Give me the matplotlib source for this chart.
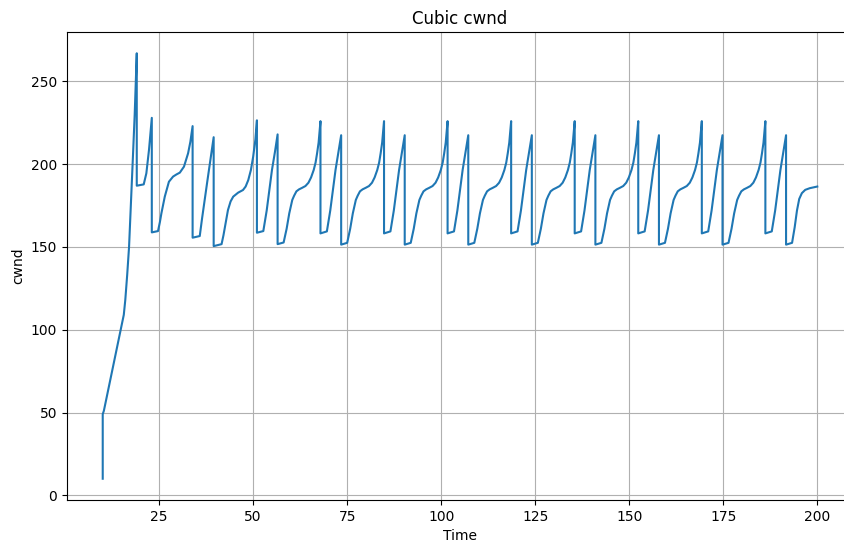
import matplotlib
matplotlib.use('Agg')
import matplotlib.pyplot as plt

# slow start + first loss events
t_start = [10.0, 10.0, 10.3, 15.6, 16.0, 16.5, 17.0, 17.5, 18.0, 18.5, 19.05, 19.05,
           20.9, 21.6, 22.3, 23.05, 23.05, 24.7, 25.2, 25.6, 26.5, 27.6, 28.7, 29.6,
           30.5, 31.6, 32.7, 33.3, 33.9, 33.9, 35.8, 36.4, 37.1, 37.8, 38.5, 39.5,
           39.5, 41.6, 42.1, 42.5, 43.3, 44.0, 44.7, 46.0, 47.3, 48.0, 48.7, 49.4,
           50.0, 50.6]
cwnd_start = [10, 49, 51, 109, 118, 133, 150, 176, 203, 230, 267, 187,
              187.8, 194.5, 208.6, 228, 158.8, 159.6, 165, 170.3, 180.4, 189.4, 192.5, 193.8,
              194.9, 198.5, 206.6, 213.5, 223, 155.6, 156.6, 167, 178.4, 189.5, 200.5, 216.3,
              150.5, 151.7, 157, 162.2, 172.3, 177.5, 180.4, 182.8, 184.4, 186.5, 190.4, 196.5,
              204.5, 215]

# steady state, one list per loss cycle
t_c1 = [51.0, 51.0, 52.7, 53.6, 54.3, 55.0, 55.8, 56.5, 56.5, 58.1, 58.9, 59.6, 60.0,
        60.4, 60.9, 61.5, 62.2, 63.0, 63.9, 64.7, 65.4, 66.1, 66.6, 67.0, 67.4]
t_c2 = [67.9, 67.9, 69.6, 70.5, 71.2, 71.9, 72.7, 73.4, 73.4, 75.0, 75.8, 76.5, 76.9,
        77.3, 77.8, 78.4, 79.1, 79.9, 80.8, 81.6, 82.3, 83.0, 83.5, 83.9, 84.3]
t_c3 = [84.8, 84.8, 86.5, 87.4, 88.1, 88.8, 89.6, 90.3, 90.3, 91.9, 92.7, 93.4, 93.8,
        94.2, 94.7, 95.3, 96.0, 96.8, 97.7, 98.5, 99.2, 99.9, 100.4, 100.8, 101.2]
t_c4 = [101.7, 101.7, 103.4, 104.3, 105.0, 105.7, 106.5, 107.2, 107.2, 108.8, 109.6, 110.3, 110.7,
        111.1, 111.6, 112.2, 112.9, 113.7, 114.6, 115.4, 116.1, 116.8, 117.3, 117.7, 118.1]
t_c5 = [118.6, 118.6, 120.3, 121.2, 121.9, 122.6, 123.4, 124.1, 124.1, 125.7, 126.5, 127.2, 127.6,
        128.0, 128.5, 129.1, 129.8, 130.6, 131.5, 132.3, 133.0, 133.7, 134.2, 134.6, 135.0]
t_c6 = [135.5, 135.5, 137.2, 138.1, 138.8, 139.5, 140.3, 141.0, 141.0, 142.6, 143.4, 144.1, 144.5,
        144.9, 145.4, 146.0, 146.7, 147.5, 148.4, 149.2, 149.9, 150.6, 151.1, 151.5, 151.9]
t_c7 = [152.4, 152.4, 154.1, 155.0, 155.7, 156.4, 157.2, 157.9, 157.9, 159.5, 160.3, 161.0, 161.4,
        161.8, 162.3, 162.9, 163.6, 164.4, 165.3, 166.1, 166.8, 167.5, 168.0, 168.4, 168.8]
t_c8 = [169.3, 169.3, 171.0, 171.9, 172.6, 173.3, 174.1, 174.8, 174.8, 176.4, 177.2, 177.9, 178.3,
        178.7, 179.2, 179.8, 180.5, 181.3, 182.2, 183.0, 183.7, 184.4, 184.9, 185.3, 185.7]
t_end = [186.2, 186.2, 187.9, 188.8, 189.5, 190.2, 191.0, 191.7, 191.7, 193.3, 194.0, 194.6,
         195.2, 195.9, 196.8, 198.0, 200.0]

cwnd_c1 = [226.5, 158.6, 159.6, 172, 184, 196.5, 207.5, 218, 151.7, 152.7, 161, 170.3, 174.5,
           178.4, 181, 183.6, 184.8, 185.7, 186.8, 188.8, 192, 196.5, 201, 206.6, 213]
cwnd_c2 = [226, 158.2, 159.4, 172, 184, 196.5, 207.5, 217.5, 151.4, 152.5, 161, 170.3, 174.5,
           178.4, 181, 183.6, 184.8, 185.7, 186.8, 188.8, 192, 196.5, 201, 206.6, 213]
cwnd_c3 = [226, 158.2, 159.4, 172, 184, 196.5, 207.5, 217.5, 151.4, 152.5, 161, 170.3, 174.5,
           178.4, 181, 183.6, 184.8, 185.7, 186.8, 188.8, 192, 196.5, 201, 206.6, 213]
cwnd_c4 = [226, 158.2, 159.4, 172, 184, 196.5, 207.5, 217.5, 151.4, 152.5, 161, 170.3, 174.5,
           178.4, 181, 183.6, 184.8, 185.7, 186.8, 188.8, 192, 196.5, 201, 206.6, 213]
cwnd_c5 = [226, 158.2, 159.4, 172, 184, 196.5, 207.5, 217.5, 151.4, 152.5, 161, 170.3, 174.5,
           178.4, 181, 183.6, 184.8, 185.7, 186.8, 188.8, 192, 196.5, 201, 206.6, 213]
cwnd_c6 = [226, 158.2, 159.4, 172, 184, 196.5, 207.5, 217.5, 151.4, 152.5, 161, 170.3, 174.5,
           178.4, 181, 183.6, 184.8, 185.7, 186.8, 188.8, 192, 196.5, 201, 206.6, 213]
cwnd_c7 = [226, 158.2, 159.4, 172, 184, 196.5, 207.5, 217.5, 151.4, 152.5, 161, 170.3, 174.5,
           178.4, 181, 183.6, 184.8, 185.7, 186.8, 188.8, 192, 196.5, 201, 206.6, 213]
cwnd_c8 = [226, 158.2, 159.4, 172, 184, 196.5, 207.5, 217.5, 151.4, 152.5, 161, 170.3, 174.5,
           178.4, 181, 183.6, 184.8, 185.7, 186.8, 188.8, 192, 196.5, 201, 206.6, 213]
cwnd_end = [226, 158.2, 159.4, 172, 184, 196.5, 207.5, 217.5, 151.4, 152.5, 162, 172,
            179, 182.5, 184.5, 185.5, 186.5]

time = t_start + t_c1 + t_c2 + t_c3 + t_c4 + t_c5 + t_c6 + t_c7 + t_c8 + t_end
cwnd = (cwnd_start + cwnd_c1 + cwnd_c2 + cwnd_c3 + cwnd_c4 + cwnd_c5 + cwnd_c6
        + cwnd_c7 + cwnd_c8 + cwnd_end)

fig = plt.figure(figsize=(8.45, 5.42), dpi=100)
# axes runs past the right edge (original was cropped there)
ax = fig.add_axes([67 / 845, 42 / 542, 786 / 845, 468 / 542])
ax.plot(time, cwnd)
ax.set_title('Cubic cwnd')
ax.set_xlabel('Time')
ax.set_ylabel('cwnd')
ax.grid(True)

fig.savefig('out.png', dpi=100)
